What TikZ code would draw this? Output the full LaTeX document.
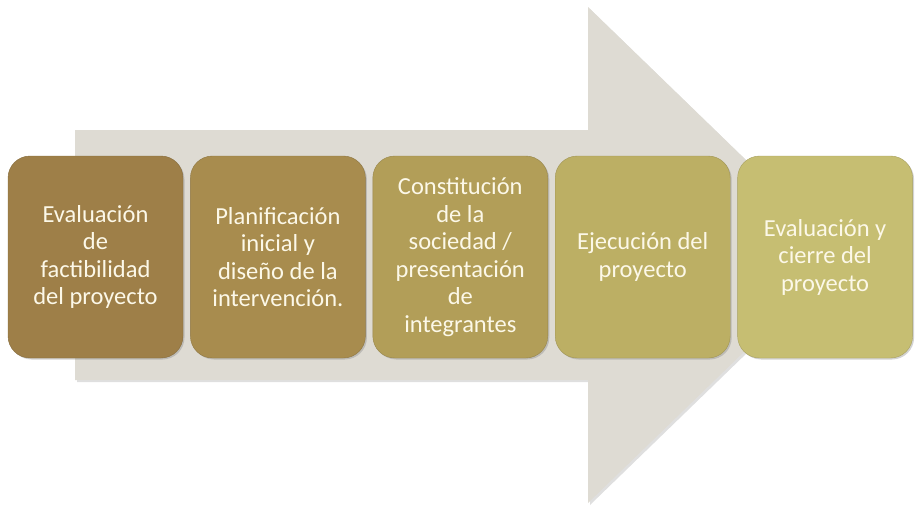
\documentclass[tikz,border=0pt]{standalone}
\usepackage{fontspec}
\setmainfont{Carlito}
\usetikzlibrary{positioning, shadows}

\definecolor{arrowgrey}{HTML}{DEDBD3}
\definecolor{stepA}{HTML}{9E7F48}
\definecolor{stepB}{HTML}{A88C4E}
\definecolor{stepC}{HTML}{B29E58}
\definecolor{stepD}{HTML}{BCAF64}
\definecolor{stepE}{HTML}{C6BE72}
\definecolor{txtcream}{HTML}{FCF8E8}

\begin{document}
\begin{tikzpicture}[x=1pt, y=1pt, node distance=7pt,
  every node/.style={font=\fontsize{24.5}{27.5}\selectfont, text=txtcream},
  phase/.style={rounded corners=22pt, minimum width=175pt, minimum height=202pt, align=center, inner sep=4pt, drop shadow={shadow xshift=1.5pt, shadow yshift=-1.5pt, opacity=0.35}}]
  \useasboundingbox (0,0) rectangle (924,-528);
  % big background arrow
  \fill[arrowgrey, drop shadow={shadow xshift=2pt, shadow yshift=-2pt, opacity=0.25}] (75,-130) -- (588,-130) -- (588,-7) -- (844,-255) -- (588,-503) -- (588,-380) -- (75,-380) -- cycle;
  % phases
  \node[phase, fill=stepA, draw=stepA!85!black] (eval) at (95.5,-257) {Evaluación\\de\\factibilidad\\del proyecto};
  \node[phase, fill=stepB, draw=stepB!85!black, right=of eval] (plan) {Planificación\\inicial y\\diseño de la\\intervención.};
  \node[phase, fill=stepC, draw=stepC!85!black, right=of plan] (const) {Constitución\\de la\\sociedad /\\presentación\\de\\integrantes};
  \node[phase, fill=stepD, draw=stepD!85!black, right=of const] (ejec) {Ejecución del\\proyecto};
  \node[phase, fill=stepE, draw=stepE!85!black, right=of ejec] (cierre) {Evaluación y\\cierre del\\proyecto};
\end{tikzpicture}
\end{document}
